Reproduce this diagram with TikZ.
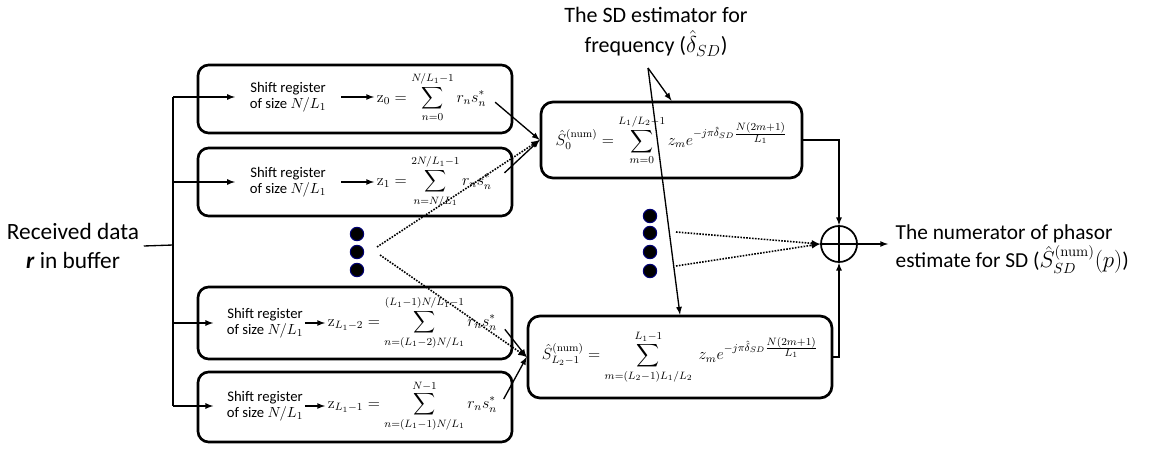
\documentclass[tikz,border=0pt]{standalone}
\usepackage{amsmath}
\usepackage{amssymb}
\usepackage[no-math]{fontspec}
\setmainfont{Carlito}
\usepackage{tikz}
\usetikzlibrary{arrows}

\begin{document}
\begin{tikzpicture}[x=0.75pt,y=-0.75pt,>=latex,
  regbox/.style={draw,line width=2pt,rounded corners=8pt,minimum width=235.5pt,inner sep=0pt},
  sumbox/.style={draw,line width=2pt,rounded corners=9pt,inner sep=0pt,font=\fontsize{12}{14}\selectfont},
  regtext/.style={align=center,font=\fontsize{11}{12}\selectfont,inner sep=1pt},
  eqn/.style={font=\fontsize{11.5}{13}\selectfont,inner sep=2pt,anchor=west},
  bigtext/.style={font=\fontsize{16}{21.5}\selectfont},
  bigdot/.style={circle,fill=black,draw=blue!45!black,line width=0.8pt,minimum size=10pt,inner sep=0pt},
  link/.style={->,line width=1pt},
  dotlink/.style={->,line width=1.2pt,densely dotted}]
            \useasboundingbox (0,0) rectangle (1168,453);
            %eingang
            \node[bigtext,align=center,font=\fontsize{17.5}{21.5}\selectfont] (recv) at (73,246) {Received data\\\textbf{\textit{r}} in buffer};
            \coordinate (bus) at (173,245);
            \coordinate (bustop) at (173,97);
            \coordinate (busbot) at (173,406);
            \draw[line width=1pt] (recv.east) -- (bus);
            \draw[line width=1pt] (bustop) -- (busbot);
            %schieberegister
            \node[regbox,minimum height=51pt] (box1) at (355,99) {};
            \node[regbox,minimum height=51pt] (box2) at (355,182) {};
            \node[regbox,minimum height=54pt] (box3) at (355,323) {};
            \node[regbox,minimum height=52.5pt] (box4) at (355,407) {};
            \node[regtext] (reg1) at (288,97) {Shift register\\of size $N/L_1$};
            \node[regtext] (reg2) at (288,182) {Shift register\\of size $N/L_1$};
            \node[regtext] (reg3) at (265,323) {Shift register\\of size $N/L_1$};
            \node[regtext] (reg4) at (265,406) {Shift register\\of size $N/L_1$};
            \node[eqn] (f1) at (374,97) {$\mathrm{z}_0=\displaystyle\sum_{n=0}^{N/L_1-1} r_ns_n^*$};
            \node[eqn] (f2) at (374,182) {$\mathrm{z}_1=\displaystyle\sum_{n=N/L_1}^{2N/L_1-1} r_ns_n^*$};
            \node[eqn] (f3) at (325,323) {$\mathrm{z}_{L_1-2}=\displaystyle\sum_{n=(L_1-2)N/L_1}^{(L_1-1)N/L_1-1} r_ns_n^*$};
            \node[eqn] (f4) at (325,406) {$\mathrm{z}_{L_1-1}=\displaystyle\sum_{n=(L_1-1)N/L_1}^{N-1} r_ns_n^*$};
            \draw[link,shorten >=10pt] (reg1.west -| bus) -- (reg1.west);
            \draw[link,shorten >=10pt] (reg2.west -| bus) -- (reg2.west);
            \draw[link,shorten >=9pt] (reg3.west -| bus) -- (reg3.west);
            \draw[link,shorten >=9pt] (reg4.west -| bus) -- (reg4.west);
            \draw[link,shorten <=10pt] (reg1.east) -- (f1.west);
            \draw[link,shorten <=10pt] (reg2.east) -- (f2.west);
            \draw[link] (reg3.east) -- (f3.west);
            \draw[link] (reg4.east) -- (f4.west);
            \node[bigdot] (d1) at (357,234) {};
            \node[bigdot] (d2) at (357,252) {};
            \node[bigdot] (d3) at (357,270) {};
            %schaetzer
            \node[sumbox,minimum width=195.75pt,minimum height=57pt] (bA) at (671.5,140)
                {$\hat{S}_0^{(\mathrm{num})}=\displaystyle\sum_{m=0}^{L_1/L_2-1} z_me^{-j\pi\hat{\delta}_{SD}\frac{\scriptstyle N(2m+1)}{\scriptstyle L_1}}$};
            \node[sumbox,minimum width=228pt,minimum height=61.5pt] (bB) at (680,357)
                {$\hat{S}_{L_2-1}^{(\mathrm{num})}=\displaystyle\sum_{m=(L_2-1)L_1/L_2}^{L_1-1}\ z_me^{-j\pi\hat{\delta}_{SD}\frac{\scriptstyle N(2m+1)}{\scriptstyle L_1}}$};
            \node[bigtext,align=center,font=\fontsize{16.5}{22.5}\selectfont] (est) at (656,32) {The SD estimator for\\frequency ($\hat{\delta}_{SD}$)};
            \coordinate (fork) at (648,68);
            \draw[link] (fork) -- (bA.north);
            \draw[link] (fork) -- (bB.north);
            \coordinate (dl1) at (377,247);
            \coordinate (dl2) at (380,255);
            \draw[link,shorten <=6pt] (f1.east) -- (bA.west);
            \draw[link,shorten <=10pt] (f2.east) -- (bA.west);
            \draw[dotlink] (dl1) -- (bA.west);
            \draw[dotlink] (dl2) -- (bB.west);
            \draw[link,shorten <=6pt] (f3.east) -- (bB.west);
            \draw[link,shorten <=6pt] (f4.east) -- (bB.west);
            \node[bigdot] (e1) at (650,216) {};
            \node[bigdot] (e2) at (650,233) {};
            \node[bigdot] (e3) at (650,252) {};
            \node[bigdot] (e4) at (650,271) {};
            %summe
            \node[draw,circle,line width=1.3pt,minimum size=27pt,inner sep=0pt] (sum) at (839,244) {};
            \draw[line width=1.3pt] (sum.north) -- (sum.south) (sum.west) -- (sum.east);
            \coordinate (dm1) at (676,232);
            \coordinate (dm2) at (676,266);
            \draw[dotlink] (dm1) -- (sum.west);
            \draw[dotlink] (dm2) -- (sum.west);
            \draw[link] (bA.east) -| (sum.north);
            \draw[link] (bB.east) -| (sum.south);
            \coordinate (out) at (888,244);
            \draw[link] (sum.east) -- (out);
            \node[bigtext,align=left,anchor=west] (res) at (891,249) {The numerator of phasor\\estimate for SD ($\hat{S}_{SD}^{(\mathrm{num})}(p)$)};
        \end{tikzpicture}
\end{document}
